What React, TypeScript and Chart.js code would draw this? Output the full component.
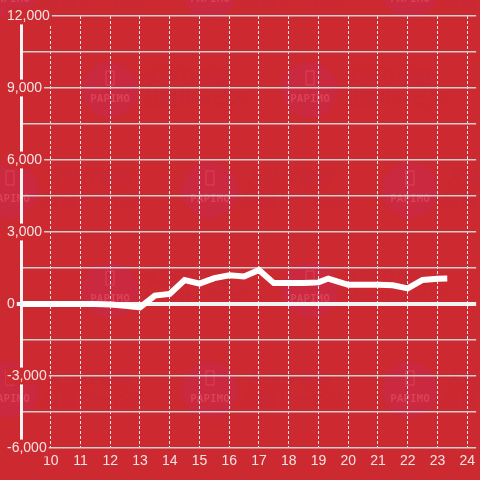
import React, { useEffect, useRef } from 'react';
import { Chart, registerables } from 'chart.js';

Chart.register(...registerables);

// Data
const hours = [9, 9.5, 10, 10.5, 11, 11.5, 12, 12.5, 13, 13.5, 14, 14.5, 15, 15.5, 16, 16.5, 17, 17.5, 18, 18.5, 19, 19.33, 20, 20.5, 21, 21.5, 22, 22.5, 23, 23.33];
const values = [0, 0, 0, 0, 0, 0, -20, -70, -140, 350, 420, 1000, 850, 1080, 1200, 1150, 1420, 870, 870, 870, 900, 1060, 800, 800, 800, 780, 650, 1000, 1050, 1060];
const xTickValues = [10, 11, 12, 13, 14, 15, 16, 17, 18, 19, 20, 21, 22, 23, 24];
const yLabelValues = [-6000, -3000, 0, 3000, 6000, 9000, 12000];

const BG = '#cc2a30';
const LABEL = '#f3e4e4';
const FONT = '"Liberation Sans", Arial, sans-serif';

const watermark = {
  id: 'watermark',
  beforeDraw(chart: any) {
    const ctx = chart.ctx;
    ctx.save();
    ctx.fillStyle = BG;
    ctx.fillRect(0, 0, chart.width, chart.height);
    const centers: [number, number][] = [];
    [-10, 190, 390].forEach((y) => [10, 210, 410].forEach((x) => centers.push([x, y])));
    [90, 290].forEach((y) => [110, 310].forEach((x) => centers.push([x, y])));
    centers.forEach(([cx, cy]) => {
      ctx.beginPath();
      ctx.arc(cx, cy, 28, 0, Math.PI * 2);
      ctx.fillStyle = 'rgba(200, 40, 80, 0.5)';
      ctx.fill();
      ctx.strokeStyle = 'rgba(235, 90, 110, 0.45)';
      ctx.lineWidth = 1.2;
      ctx.strokeRect(cx - 4, cy - 19, 8, 14);
      ctx.fillStyle = 'rgba(235, 90, 110, 0.5)';
      ctx.font = 'bold 11px "DejaVu Sans Mono", monospace';
      ctx.textAlign = 'center';
      ctx.textBaseline = 'middle';
      ctx.fillText('PAPIMO', cx, cy + 9);
      ctx.fillStyle = 'rgba(195, 38, 62, 0.35)';
      ctx.font = 'bold 17px "Noto Sans CJK JP", sans-serif';
      ctx.textAlign = 'left';
      ctx.fillText('大当り情報', cx + 36, cy - 12);
      ctx.fillText('公開サービス', cx + 33, cy + 9);
    });
    ctx.restore();
  },
};

export default function App() {
  const ref = useRef<HTMLCanvasElement | null>(null);

  useEffect(() => {
    if (!ref.current) return;
    const chart = new Chart(ref.current, {
      type: 'line',
      data: {
        datasets: [
          {
            data: hours.map((h, i) => ({ x: h, y: values[i] })),
            borderColor: '#ffffff',
            borderWidth: 6,
            pointRadius: 0,
            tension: 0,
            fill: false,
          },
        ],
      },
      options: {
        animation: false,
        responsive: false,
        layout: { padding: { left: 7, top: 16, right: 0, bottom: 0 } },
        plugins: { legend: { display: false }, tooltip: { enabled: false } },
        scales: {
          x: {
            type: 'linear',
            min: 9,
            max: 24.3,
            afterBuildTicks: (scale: any) => {
              scale.ticks = xTickValues.map((v) => ({ value: v }));
            },
            afterFit: (scale: any) => {
              scale.height = 32;
            },
            ticks: {
              color: LABEL,
              font: { family: FONT, size: 14 },
              padding: 5,
              maxRotation: 0,
              autoSkip: false,
              callback: (v: any) => String(v),
            },
            grid: {
              color: '#e6e6e6',
              lineWidth: 1,
              drawTicks: false,
              tickLength: 0,
            },
            border: { display: false, dash: [3, 2] },
          },
          y: {
            type: 'linear',
            min: -6000,
            max: 12000,
            afterBuildTicks: (scale: any) => {
              const t = [];
              for (let v = -6000; v <= 12000; v += 1500) t.push({ value: v });
              scale.ticks = t;
            },
            afterFit: (scale: any) => {
              scale.width = 14;
            },
            ticks: {
              color: LABEL,
              font: { family: FONT, size: 14 },
              mirror: true,
              crossAlign: 'near',
              padding: -14,
              autoSkip: false,
              showLabelBackdrop: (c: any) => yLabelValues.includes(c.tick.value),
              backdropColor: BG,
              backdropPadding: { left: 1, right: 2, top: 0, bottom: 0 },
              callback: (v: any) => (yLabelValues.includes(v) ? Number(v).toLocaleString('en-US') : ''),
            },
            grid: {
              color: (c: any) => (c.tick && c.tick.value === 0 ? '#f4f4f4' : '#cfcfcf'),
              lineWidth: (c: any) => (c.tick && c.tick.value === 0 ? 4 : 1.5),
              tickColor: (c: any) =>
                c.tick && c.tick.value === 0 ? '#f4f4f4' : yLabelValues.includes(c.tick && c.tick.value) ? '#cfcfcf' : 'rgba(0,0,0,0)',
              tickLength: 14,
              drawTicks: true,
            },
            border: { display: true, color: '#f4f4f4', width: 3 },
          },
        },
      } as any,
      plugins: [watermark],
    });
    return () => chart.destroy();
  }, []);

  return (
    <div style={{ position: 'absolute', left: 0, top: 0, width: 480, height: 480 }}>
      <canvas ref={ref} width={480} height={480} />
    </div>
  );
}
